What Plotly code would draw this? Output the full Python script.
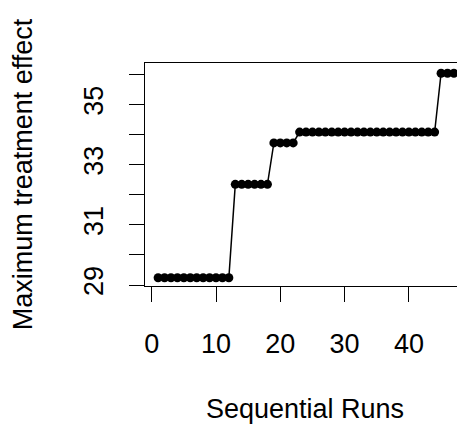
import plotly.graph_objects as go

runs = list(range(1, 49))
max_effect = [29.24] * 12 + [32.35] * 6 + [33.73] * 4 + [34.09] * 22 + [36.05] * 4

x_ticks = [0, 10, 20, 30, 40]
y_ticks = [29, 30, 31, 32, 33, 34, 35, 36]
y_tick_text = ["29", "", "31", "", "33", "", "35", ""]

font = dict(family="Liberation Sans, Arial, sans-serif", size=27, color="black")

fig = go.Figure()
fig.add_trace(go.Scatter(
    x=runs, y=max_effect, mode="lines+markers",
    line=dict(color="black", width=1.5),
    marker=dict(color="black", size=9),
    showlegend=False, cliponaxis=False,
))

# page body has an 8px default margin, so the figure is sized/offset to compensate
fig.update_layout(
    width=457, height=422,
    margin=dict(l=137, r=0, t=55, b=144),
    paper_bgcolor="white", plot_bgcolor="white",
    font=font,
    xaxis=dict(
        range=[-1.04, 48.72], tickvals=x_ticks, ticktext=[str(v) for v in x_ticks],
        showgrid=False, zeroline=False, showline=True, mirror=True,
        linecolor="black", linewidth=1, automargin=False,
        ticks="outside", ticklen=15, tickwidth=1, tickcolor="black",
        ticklabelstandoff=19,
        title=dict(text="Sequential Runs", standoff=40, font=font),
    ),
    yaxis=dict(
        range=[28.967, 36.39], tickvals=y_ticks, ticktext=y_tick_text,
        tickangle=-90,
        showgrid=False, zeroline=False, showline=True, mirror=False,
        linecolor="black", linewidth=1, automargin=False,
        ticks="outside", ticklen=15, tickwidth=1, tickcolor="black",
        ticklabelstandoff=15,
        title=dict(text="Maximum treatment effect", standoff=40, font=font),
    ),
)

fig.write_html("out.html")
